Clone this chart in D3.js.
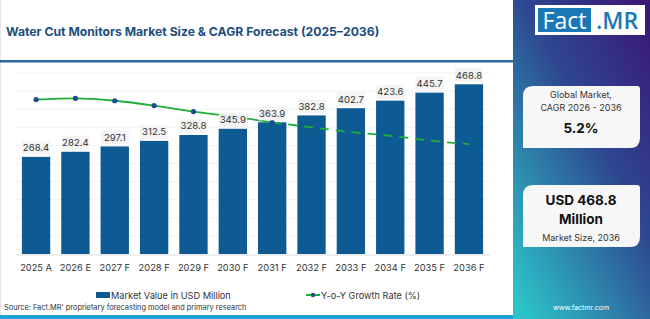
<!DOCTYPE html>
<html lang="en">
<head>
<meta charset="UTF-8">
<title>Water Cut Monitors Market Size & CAGR Forecast</title>
<script src="https://cdnjs.cloudflare.com/ajax/libs/d3/7.8.5/d3.min.js"></script>
<style>
  body { margin: 0; background: #fff; }
  svg { display: block; font-family: Inter, "Open Sans", sans-serif; }
</style>
</head>
<body>
<div id="chart"></div>
<script>
// data
const years = ["2025 A", "2026 E", "2027 F", "2028 F", "2029 F", "2030 F", "2031 F", "2032 F", "2033 F", "2034 F", "2035 F", "2036 F"];
const marketValue = [268.4, 282.4, 297.1, 312.5, 328.8, 345.9, 363.9, 382.8, 402.7, 423.6, 445.7, 468.8];
// growth line as drawn (no axis shown in the original)
const growthRate = [5.78, 5.79, 5.77, 5.73, 5.68, 5.64, 5.59, 5.55, 5.51, 5.48, 5.44, 5.41];
const yTicks = [0, 50, 100, 150, 200, 250, 300, 350, 400, 450, 500];

const W = 650, H = 319;
const svg = d3.select("#chart").append("svg").attr("width", W).attr("height", H);
const defs = svg.append("defs");

// right panel gradient
const grad = defs.append("linearGradient").attr("id", "side")
    .attr("x1", 0.9).attr("y1", 0).attr("x2", 0.1).attr("y2", 1);
grad.append("stop").attr("offset", "0%").attr("stop-color", "#3a1a76");
grad.append("stop").attr("offset", "40%").attr("stop-color", "#2e4690");
grad.append("stop").attr("offset", "100%").attr("stop-color", "#2cc3c8");

// title band + chart frame
svg.append("rect").attr("x", 0).attr("y", 0).attr("width", 513).attr("height", H).attr("fill", "#fff");
svg.append("line").attr("x1", 0.5).attr("x2", 0.5).attr("y1", 0).attr("y2", H).attr("stroke", "#e4e8ee");
svg.append("text").attr("x", 6).attr("y", 36)
    .attr("fill", "#1d4e7e").attr("font-size", 12.2).attr("font-weight", 700)
    .text("Water Cut Monitors Market Size & CAGR Forecast (2025\u20132036)");
svg.append("rect").attr("x", 0).attr("y", 60).attr("width", 513).attr("height", 2.5).attr("fill", "#2b679c");
svg.append("rect").attr("x", 0).attr("y", 315).attr("width", 513).attr("height", 4).attr("fill", "#1ba3db");

// chart
const x = d3.scaleBand().domain(years).range([16, 489]).paddingInner(0.28).paddingOuter(0.15);
const y = d3.scaleLinear().domain([0, 500]).range([254, 73]);
const yg = d3.scaleLinear().domain([4.5, 6.0]).range([254, 73]);

svg.append("g").selectAll("line").data(yTicks.slice(1)).join("line")
    .attr("x1", 16).attr("x2", 489)
    .attr("y1", d => y(d)).attr("y2", d => y(d))
    .attr("stroke", "#f1f2f4");

svg.append("g").selectAll("rect").data(marketValue).join("rect")
    .attr("x", (d, i) => x(years[i]))
    .attr("y", d => y(d))
    .attr("width", x.bandwidth())
    .attr("height", d => y(0) - y(d))
    .attr("fill", "#0e5a92");

// x axis
const xAxis = svg.append("g").attr("transform", "translate(0,254.5)")
    .call(d3.axisBottom(x).tickSize(0).tickPadding(10));
xAxis.select(".domain").attr("stroke", "#d8dbe0");
xAxis.selectAll("text").attr("font-size", 9.3).attr("fill", "#333").attr("font-family", "Inter, sans-serif");

// growth line
const cx = i => x(years[i]) + x.bandwidth() / 2;
const pts = growthRate.map((g, i) => [cx(i), yg(g)]);
const line = d3.line().curve(d3.curveMonotoneX);
const split = 6;
svg.append("path").attr("d", line(pts.slice(0, split + 1)))
    .attr("fill", "none").attr("stroke", "#1fae3a").attr("stroke-width", 1.8);
svg.append("path").attr("d", line(pts.slice(split)))
    .attr("fill", "none").attr("stroke", "#1fae3a").attr("stroke-width", 1.8)
    .attr("stroke-dasharray", "9,7");
svg.append("g").selectAll("circle").data(pts.slice(0, split + 1)).join("circle")
    .attr("cx", d => d[0]).attr("cy", d => d[1]).attr("r", 2.6).attr("fill", "#1f4b93");

// value labels
const lab = svg.append("g").selectAll("g").data(marketValue).join("g")
    .attr("transform", (d, i) => `translate(${cx(i)},${y(d) - 9})`);
lab.append("rect").attr("x", -14).attr("y", -7).attr("width", 28).attr("height", 14)
    .attr("fill", "#f3f3f3").attr("opacity", 0.92);
lab.append("text").attr("text-anchor", "middle").attr("dy", "0.35em")
    .attr("font-size", 9.6).attr("fill", "#333").text(d => d.toFixed(1));

// legend
svg.append("rect").attr("x", 96).attr("y", 292).attr("width", 14).attr("height", 6).attr("fill", "#0e5a92");
svg.append("text").attr("x", 111).attr("y", 298.5).attr("font-size", 9.2).attr("fill", "#333")
    .text("Market Value in USD Million");
svg.append("line").attr("x1", 306).attr("x2", 320).attr("y1", 295).attr("y2", 295)
    .attr("stroke", "#1fae3a").attr("stroke-width", 2);
svg.append("circle").attr("cx", 313).attr("cy", 295).attr("r", 2.2).attr("fill", "#1f4b93");
svg.append("text").attr("x", 321).attr("y", 298.5).attr("font-size", 9.2).attr("fill", "#333")
    .text("Y-o-Y Growth Rate (%)");
svg.append("text").attr("x", 4).attr("y", 310).attr("font-size", 7.4).attr("fill", "#333")
    .text("Source: Fact.MR' proprietary forecasting model and primary research");

// right panel
svg.append("rect").attr("x", 513).attr("y", 0).attr("width", W - 513).attr("height", H).attr("fill", "url(#side)");
svg.append("rect").attr("x", 535).attr("y", 5).attr("width", 110).attr("height", 30).attr("fill", "#fff");
svg.append("rect").attr("x", 538).attr("y", 8).attr("width", 53).attr("height", 24).attr("fill", "#1b78b6");
svg.append("text").attr("x", 564.5).attr("y", 29).attr("text-anchor", "middle")
    .attr("font-size", 23).attr("fill", "#fff").attr("font-family", "'Open Sans', sans-serif").text("Fact");
svg.append("text").attr("x", 617).attr("y", 29).attr("text-anchor", "middle")
    .attr("font-size", 23).attr("font-weight", 600).attr("fill", "#1b78b6").attr("font-family", "'Open Sans', sans-serif").text(".MR");

function card(y0, h) {
    const x0 = 523, w = 117, r = 10, s = 3;
    const p = `M${x0},${y0 + r} Q${x0},${y0} ${x0 + r},${y0} H${x0 + w - s} Q${x0 + w},${y0} ${x0 + w},${y0 + s}
      V${y0 + h - r} Q${x0 + w},${y0 + h} ${x0 + w - r},${y0 + h} H${x0} Z`;
    svg.append("path").attr("d", p).attr("fill", "#f7f7f8");
}
card(86, 62);
card(185, 62);
const cxR = 581;
const sideText = (t, yy, size, bold) => svg.append("text").attr("x", cxR).attr("y", yy)
    .attr("text-anchor", "middle").attr("dy", "0.35em").attr("font-size", size)
    .attr("font-weight", bold ? 700 : 400).attr("fill", bold ? "#111" : "#333").text(t);
sideText("Global Market,", 95, 9, false);
sideText("CAGR 2026 - 2036", 108, 9, false);
sideText("5.2%", 128, 13.5, true);
sideText("USD 468.8", 200, 13.5, true);
sideText("Million", 219, 13.5, true);
sideText("Market Size, 2036", 238, 9, false);
svg.append("text").attr("x", cxR).attr("y", 310).attr("text-anchor", "middle")
    .attr("font-size", 7).attr("fill", "#fff").text("www.factmr.com");
</script>
</body>
</html>
